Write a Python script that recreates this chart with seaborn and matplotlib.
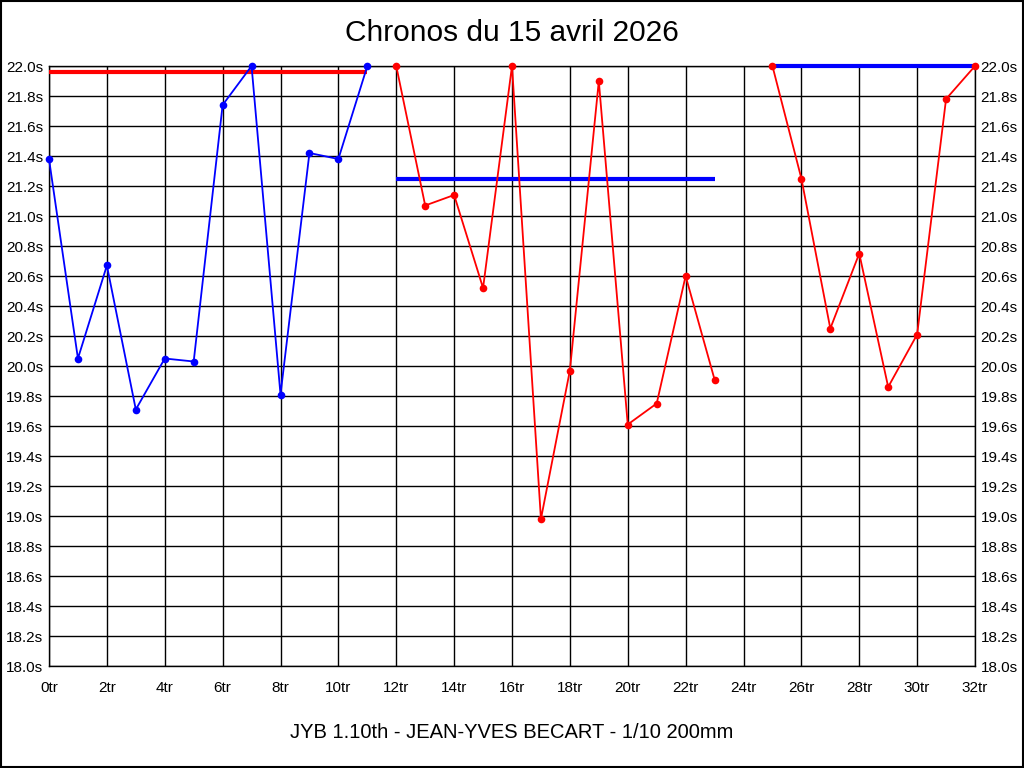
import matplotlib
matplotlib.use('Agg')
import matplotlib.pyplot as plt
import seaborn as sns
import numpy as np
import pandas as pd

# laps and times per segment
laps_a = [0, 1, 2, 3, 4, 5, 6, 7, 8, 9, 10, 11]
times_a = [21.38, 20.05, 20.67, 19.71, 20.05, 20.03, 21.74, 22.0, 19.81, 21.42, 21.38, 22.0]

laps_b = [12, 13, 14, 15, 16, 17, 18, 19, 20, 21, 22, 23]
times_b = [22.0, 21.07, 21.14, 20.52, 22.0, 18.98, 19.97, 21.9, 19.61, 19.75, 20.6, 19.91]

laps_c = [25, 26, 27, 28, 29, 30, 31, 32]
times_c = [22.0, 21.25, 20.25, 20.75, 19.86, 20.21, 21.78, 22.0]

# average lines
avg_a = 21.96
avg_b = 21.25
avg_c = 22.0

title = 'Chronos du 15 avril 2026'
footer = 'JYB 1.10th - JEAN-YVES BECART - 1/10 200mm'

sns.set_theme(style='white')
plt.rcParams['font.family'] = ['Liberation Sans', 'DejaVu Sans']
plt.rcParams['text.color'] = 'black'

fig = plt.figure(figsize=(10.24, 7.68), dpi=100)
ax = fig.add_axes([49 / 1024, 1 - 666 / 768, 926 / 1024, 600 / 768])

segs = [(laps_a, times_a, 'blue'), (laps_b, times_b, 'red'), (laps_c, times_c, 'red')]
for laps, times, col in segs:
    df = pd.DataFrame({'lap': laps, 'time': times})
    sns.lineplot(data=df, x='lap', y='time', ax=ax, color=col, linewidth=1.3,
                 marker='o', markersize=5.5, markeredgewidth=0, clip_on=False, zorder=3)

ax.hlines(avg_a, laps_a[0], laps_a[-1], colors='red', linewidth=3, zorder=2.6, clip_on=False)
ax.hlines(avg_b, laps_b[0], laps_b[-1], colors='blue', linewidth=3, zorder=2.6, clip_on=False)
ax.hlines(avg_c, laps_c[0], laps_c[-1], colors='blue', linewidth=3, zorder=2.6, clip_on=False)

ax.set_xlim(0, 32)
ax.set_ylim(18.0, 22.0)
ax.set_xticks(np.arange(0, 33, 2))
ax.set_xticklabels([f'{i}tr' for i in range(0, 33, 2)])
yt = np.round(np.arange(18.0, 22.01, 0.2), 1)
ax.set_yticks(yt)
ax.set_yticklabels([f'{v:.1f}s' for v in yt])
ax.tick_params(axis='both', labelsize=11, colors='black', labelcolor='black', length=0)
ax.tick_params(axis='x', pad=11)
ax.tick_params(axis='y', pad=4, right=True, labelright=True)
ax.grid(True, color='black', linewidth=1)
ax.set_axisbelow(True)
for s in ax.spines.values():
    s.set_color('black')
    s.set_linewidth(1)
ax.set_xlabel('')
ax.set_ylabel('')

fig.text(0.5, 1 - 33 / 768, title, ha='center', va='center', fontsize=21.5, color='black')
fig.text(0.5, 1 - 733 / 768, footer, ha='center', va='center', fontsize=14.5, color='black')

# outer border
fig.patches.append(plt.Rectangle((0.0005, 0.0007), 0.999, 0.9986, transform=fig.transFigure,
                                 fill=False, edgecolor='black', linewidth=1.5))

fig.savefig('out.png', dpi=100)
